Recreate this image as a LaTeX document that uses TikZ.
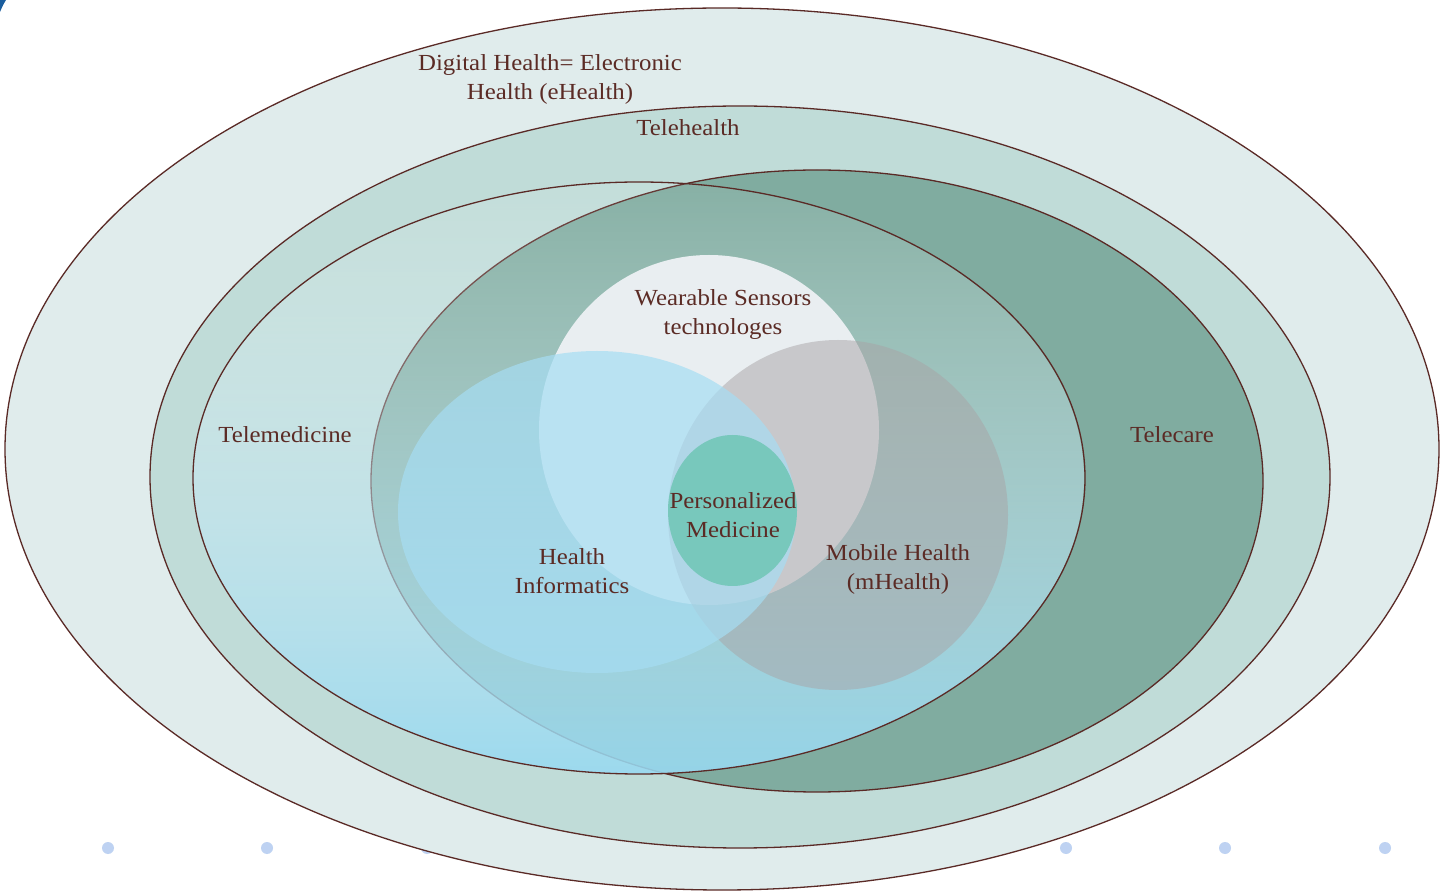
\documentclass[tikz,border=0pt]{standalone}
\usepackage{fontspec}
\setmainfont{Liberation Serif}[FakeStretch=1.08]
\usetikzlibrary{fadings}
\definecolor{edge}{HTML}{5A2A26}
\definecolor{txt}{HTML}{5B2B25}
\definecolor{outerfill}{HTML}{E0ECEC}
\definecolor{thfill}{HTML}{C0DCD8}
\definecolor{tcfill}{HTML}{80ACA0}
\definecolor{tmtop}{RGB}{250,252,252}
\definecolor{tmmid}{RGB}{205,230,241}
\definecolor{tmbot}{RGB}{152,217,241}
\definecolor{wearfill}{HTML}{E9EEF1}
\definecolor{mobfill}{HTML}{A8A4A6}
\definecolor{hifill}{HTML}{A6DDF3}
\definecolor{pmfill}{HTML}{78C8BC}
\definecolor{dotfill}{HTML}{BED2F2}
\definecolor{cornerblue}{HTML}{1B5E9E}
\tikzfading[name=tmfade, top color=transparent!94, middle color=transparent!62, bottom color=transparent!11]
\begin{document}
\begin{tikzpicture}[x=1pt,y=1pt,
  ring/.style={draw=edge, line width=1.3pt},
  lbl/.style={text=txt, font=\fontsize{23}{29}\selectfont, align=center, inner sep=0pt},
  dotmark/.style={fill=dotfill}]
\useasboundingbox (0,0) rectangle (1441,895);
\fill[white] (0,0) rectangle (1441,895);
% corner fragment
\fill[cornerblue] (0,895) -- (6,895) .. controls (3,890) .. (0,883) -- cycle;
% dots behind
\foreach \x in {108,267,427,586,746,906,1066,1225,1385}
  \fill[dotmark] (\x,47) circle[radius=6pt];
% outer rings
\path[ring, fill=outerfill] (722,446) ellipse [x radius=717pt, y radius=441pt];
\path[ring, fill=thfill] (740,418) ellipse [x radius=590pt, y radius=371pt];
% telecare
\path[ring, fill=tcfill] (817,414) ellipse [x radius=446pt, y radius=311pt];
% telemedicine
\shade[top color=tmtop, middle color=tmmid, bottom color=tmbot, path fading=tmfade]
  (639,417) ellipse [x radius=446pt, y radius=296pt];
\draw[ring] (639,417) ellipse [x radius=446pt, y radius=296pt];
% inner sets
\fill[wearfill] (709,465) ellipse [x radius=170pt, y radius=175pt];
\fill[mobfill, fill opacity=0.5] (838,380) ellipse [x radius=170pt, y radius=175pt];
\fill[hifill, fill opacity=0.7] (597,383) ellipse [x radius=199pt, y radius=161pt];
\fill[pmfill] (732.5,384.5) ellipse [x radius=64.5pt, y radius=75.5pt];
% labels
\node[lbl] (dh) at (550,815.5) {Digital Health= Electronic\\Health (eHealth)};
\node[lbl] (th) at (688,767) {Telehealth};
\node[lbl] (tm) at (285,460) {Telemedicine};
\node[lbl] (tc) at (1172,460) {Telecare};
\node[lbl] (ws) at (723,580.5) {Wearable Sensors\\technologes};
\node[lbl] (pm) at (733,380) {Personalized\\Medicine};
\node[lbl] (hi) at (572,324) {Health\\Informatics};
\node[lbl] (mh) at (898,326) {Mobile Health\\(mHealth)};
\end{tikzpicture}
\end{document}
